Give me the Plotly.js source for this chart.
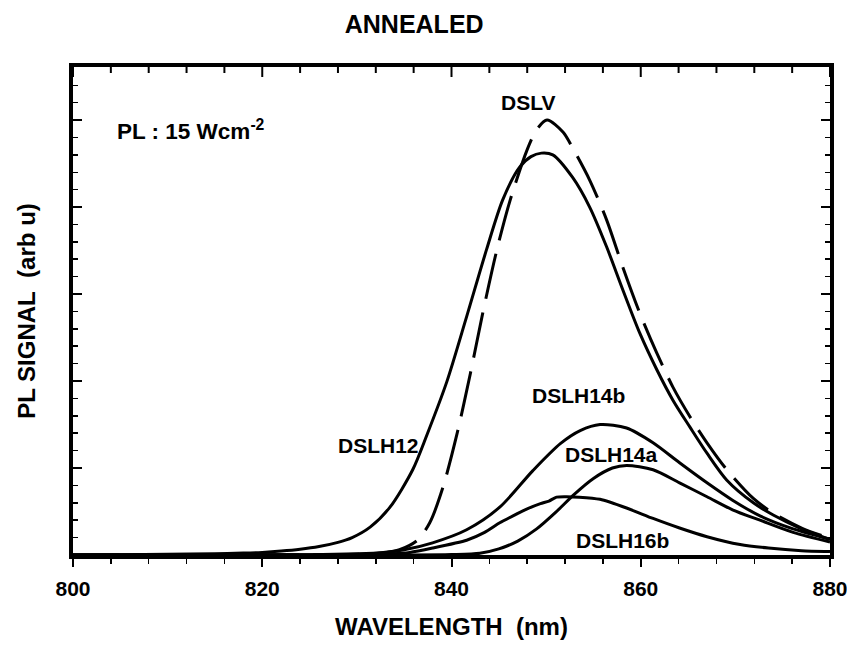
<!DOCTYPE html>
<html>
<head>
<meta charset="utf-8">
<script src="https://cdn.plot.ly/plotly-3.0.1.min.js"></script>
<style>
  html, body { margin: 0; padding: 0; background: #fff; }
  #chart { width: 847px; height: 650px; }
</style>
</head>
<body>
<div id="chart"></div>
<script>
// PL spectra of annealed samples, 15 W/cm^2 excitation
const wlDSLH12 = [800, 805, 810, 815, 818, 820, 822, 824, 826, 828, 829.5, 831.4, 833.5, 835.9, 837.4, 839.5, 841.6, 843.7, 845.4, 847.2, 848.4, 849.5, 850.7, 852.8, 854.6, 856.4, 858.1, 859.9, 861.7, 863.4, 865.2, 867.0, 869.1, 871.9, 874.0, 876.8, 880];
const sigDSLH12 = [0, 0.003, 0.008, 0.015, 0.022, 0.03, 0.045, 0.066, 0.097, 0.145, 0.20, 0.32, 0.55, 0.98, 1.38, 1.99, 2.74, 3.51, 4.08, 4.46, 4.58, 4.62, 4.60, 4.34, 4.0, 3.54, 3.05, 2.55, 2.13, 1.78, 1.47, 1.17, 0.86, 0.60, 0.46, 0.31, 0.18];

const wlDSLV = [800, 820, 828, 831, 833, 834.5, 836.4, 837.7, 839.1, 840.6, 842.0, 843.3, 844.8, 846.2, 848.0, 849.0, 850.1, 851.8, 852.8, 854.6, 856.4, 858.1, 859.9, 861.7, 863.4, 865.2, 867.0, 869.1, 871.9, 874.0, 877, 880];
const sigDSLV = [0, 0, 0.003, 0.01, 0.025, 0.06, 0.17, 0.37, 0.78, 1.40, 2.09, 2.78, 3.51, 4.08, 4.66, 4.89, 5.0, 4.86, 4.68, 4.31, 3.85, 3.31, 2.78, 2.32, 1.93, 1.59, 1.29, 0.98, 0.65, 0.48, 0.31, 0.19];

const wlDSLH14b = [800, 825, 830, 832.8, 835, 838.0, 841.6, 845.1, 848.6, 851.5, 853.6, 855.7, 858.5, 861.3, 864.1, 867.0, 869.7, 872.6, 876.1, 880];
const sigDSLH14b = [0, 0.003, 0.015, 0.03, 0.06, 0.14, 0.29, 0.55, 0.97, 1.28, 1.43, 1.50, 1.46, 1.29, 1.06, 0.83, 0.63, 0.45, 0.30, 0.18];

const wlDSLH14a = [800, 835, 840, 843, 845, 847, 849, 851, 853, 855, 857, 858.5, 861.3, 864.1, 867.0, 869.7, 872.6, 876.1, 880];
const sigDSLH14a = [0, 0, 0.005, 0.02, 0.07, 0.16, 0.30, 0.49, 0.70, 0.88, 1.0, 1.03, 0.98, 0.83, 0.67, 0.52, 0.40, 0.26, 0.15];

const wlDSLH16b = [800, 830, 833, 835.6, 838, 841.6, 843.5, 845.1, 846.5, 848.0, 849.4, 850.3, 851.1, 852.0, 853.5, 855.7, 858.5, 861.3, 864.1, 867.0, 870.5, 873.5, 877, 880];
const sigDSLH16b = [0, 0, 0.01, 0.03, 0.08, 0.17, 0.26, 0.37, 0.45, 0.53, 0.59, 0.62, 0.665, 0.67, 0.665, 0.64, 0.54, 0.42, 0.31, 0.21, 0.12, 0.08, 0.05, 0.04];

const xTickVals = [800, 820, 840, 860, 880];
const xTickText = ['800', '820', '840', '860', '880'];
const xMinorStep = 4;

const PLOT_H = 650 - 67 - 95;   // plot area height in px

const solid = { color: '#000', width: 3, shape: 'spline', smoothing: 0.8 };

const traces = [
  { x: wlDSLH12, y: sigDSLH12, name: 'DSLH12', mode: 'lines', line: solid },
  { x: wlDSLV, y: sigDSLV, name: 'DSLV', mode: 'lines',
    line: { color: '#000', width: 3, shape: 'spline', smoothing: 0.8, dash: '46px,14px' } },
  { x: wlDSLH14b, y: sigDSLH14b, name: 'DSLH14b', mode: 'lines', line: solid },
  { x: wlDSLH14a, y: sigDSLH14a, name: 'DSLH14a', mode: 'lines', line: solid },
  { x: wlDSLH16b, y: sigDSLH16b, name: 'DSLH16b', mode: 'lines',
    line: { color: '#000', width: 3, shape: 'spline', smoothing: 0.6 } }
];

const boldFont = (size) => ({ family: 'Liberation Sans, Arial, sans-serif', size: size, color: '#000', weight: 'bold' });

const curveLabel = (text, x, y) => ({
  text: text, x: x, y: y, xref: 'x', yref: 'y', showarrow: false,
  xanchor: 'center', yanchor: 'middle', font: boldFont(21)
});

// inward tick marks along the top frame edge, on the same wavelength grid as the bottom axis
const topTicks = [];
const xFirst = xTickVals[0], xLast = xTickVals[xTickVals.length - 1];
for (let v = xFirst; v <= xLast; v += xMinorStep) {
  const major = xTickVals.includes(v);
  const len = major ? 10 : 6;
  topTicks.push({
    type: 'line', xref: 'x', yref: 'paper', layer: 'above',
    x0: v, x1: v, y0: 1, y1: 1 - len / PLOT_H,
    line: { color: '#000', width: 2 }
  });
}

const layout = {
  width: 847, height: 650,
  margin: { l: 73, r: 17, t: 67, b: 95 },
  paper_bgcolor: '#fff', plot_bgcolor: '#fff',
  showlegend: false,
  title: { text: 'ANNEALED', x: 0.489, xanchor: 'center', xref: 'container',
           y: 0.962, yanchor: 'middle', yref: 'container', font: boldFont(25) },
  xaxis: {
    range: [800, 880], tickmode: 'array', tickvals: xTickVals, ticktext: xTickText,
    ticks: 'outside', ticklen: 8, tickwidth: 2, tickcolor: '#000',
    minor: { dtick: xMinorStep, tick0: 800, ticks: 'outside', ticklen: 5, tickwidth: 1.5, tickcolor: '#000' },
    showline: true, linewidth: 4, linecolor: '#000', mirror: true,
    showgrid: false, zeroline: false,
    tickfont: boldFont(21), ticklabelstandoff: 4, ticklabeloverflow: 'allow',
    title: { text: 'WAVELENGTH\u00A0\u00A0(nm)', font: boldFont(24), standoff: 20 }
  },
  yaxis: {
    range: [0, 5.61], tick0: 0, dtick: 1,
    ticks: 'inside', ticklen: 9, tickwidth: 2, tickcolor: '#000',
    minor: { dtick: 0.2, ticks: 'inside', ticklen: 5, tickwidth: 1.5, tickcolor: '#000' },
    showticklabels: false,
    showline: true, linewidth: 4, linecolor: '#000', mirror: 'ticks',
    showgrid: false, zeroline: false,
    title: { text: 'PL SIGNAL\u00A0\u00A0(arb u)', font: boldFont(24), standoff: 28 }
  },
  shapes: topTicks,
  annotations: [
    curveLabel('DSLV', 848.1, 5.20),
    curveLabel('DSLH12', 832.3, 1.26),
    curveLabel('DSLH14b', 853.4, 1.83),
    curveLabel('DSLH14a', 856.9, 1.16),
    curveLabel('DSLH16b', 858.1, 0.17),
    { text: 'PL : 15 Wcm<sup>-2</sup>', x: 804.4, y: 4.89, xref: 'x', yref: 'y',
      showarrow: false, xanchor: 'left', yanchor: 'middle', font: boldFont(22.5) }
  ]
};

Plotly.newPlot('chart', traces, layout, { staticPlot: true, displayModeBar: false });
</script>
</body>
</html>
